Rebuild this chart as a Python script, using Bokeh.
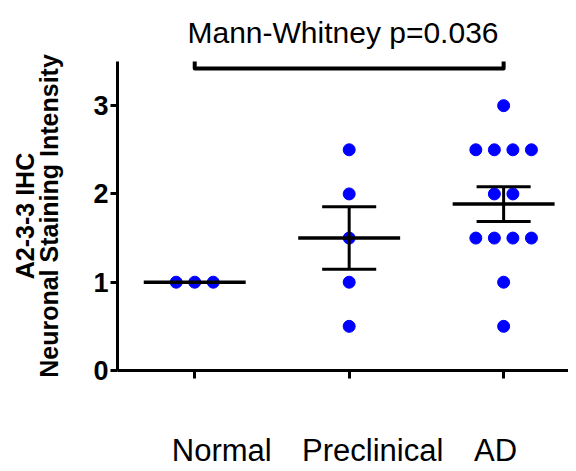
import numpy as np
from bokeh.plotting import figure
from bokeh.models import FixedTicker, LinearAxis, Range1d
from bokeh.embed import file_html
from bokeh.resources import INLINE

# ---- data ----
groups = ["Normal", "Preclinical", "AD"]
normal = [1.0, 1.0, 1.0]
preclinical = [2.5, 2.0, 1.5, 1.0, 0.5]
ad = [3.0, 2.5, 2.5, 2.5, 2.5, 2.0, 2.0, 1.5, 1.5, 1.5, 1.5, 1.0, 0.5]
y_ticks = [0, 1, 2, 3]
label_pos = [0.175, 1.152, 1.948]
title_text = "Mann-Whitney p=0.036"
ylabel_text = "A2-3-3 IHC\nNeuronal Staining Intensity"
bracket_x = [0, 0, 2, 2]
bracket_y = [3.51, 3.42, 3.42, 3.51]

series = [normal, preclinical, ad]
FONT = "Liberation Sans"

p = figure(frame_width=451, frame_height=309, x_range=Range1d(-0.5, 2.42), y_range=Range1d(0, 3.5),
           output_backend="svg", toolbar_location=None,
           min_border_left=117, min_border_right=0, min_border_top=61, min_border_bottom=0,
           x_axis_type=None, y_axis_type=None)
p.outline_line_color = None
p.xgrid.visible = False
p.ygrid.visible = False

# title
p.title.text = title_text
p.title.align = "center"
p.title.text_font = FONT
p.title.text_font_style = "normal"
p.title.text_font_size = "30px"
p.title.text_color = "black"
p.title.standoff = 25
p.title.offset = 3

# swarm positions
step = 0.12
xs, ys = [], []
for gi, vals in enumerate(series):
    uniq = sorted(set(vals), reverse=True)
    for v in uniq:
        n = vals.count(v)
        for k in range(n):
            xs.append(gi + (k - (n - 1) / 2) * step)
            ys.append(v)
p.scatter(xs, ys, size=12, color="#0000ff", line_color="#0000ff")

# mean and SEM
for gi, vals in enumerate(series):
    a = np.array(vals)
    m = a.mean()
    sem = a.std(ddof=1) / np.sqrt(len(a))
    p.segment(x0=[gi - 0.33], x1=[gi + 0.33], y0=[m], y1=[m], line_color="black", line_width=3.5)
    if sem > 0:
        p.segment(x0=[gi], x1=[gi], y0=[m - sem], y1=[m + sem], line_color="black", line_width=3)
        p.segment(x0=[gi - 0.175, gi - 0.175], x1=[gi + 0.175, gi + 0.175],
                  y0=[m - sem, m + sem], y1=[m - sem, m + sem], line_color="black", line_width=3)

# bracket
p.line(bracket_x, bracket_y, line_color="black", line_width=4, line_join="round", line_cap="round")

# y axis
yax = LinearAxis(ticker=FixedTicker(ticks=y_ticks))
yax.axis_label = ylabel_text
yax.axis_label_text_font = FONT
yax.axis_label_text_font_style = "bold"
yax.axis_label_text_font_size = "25px"
yax.axis_label_text_color = "black"
yax.axis_label_text_line_height = 0.88
yax.axis_label_standoff = 27
yax.major_label_text_font = FONT
yax.major_label_text_font_style = "bold"
yax.major_label_text_font_size = "27px"
yax.major_label_text_color = "black"
yax.major_label_standoff = 2
yax.axis_line_width = 3
yax.major_tick_line_width = 3
yax.major_tick_out = 7
yax.major_tick_in = 0
yax.minor_tick_line_color = None
p.add_layout(yax, "left")

# x axis (ticks)
xax = LinearAxis(ticker=FixedTicker(ticks=[0, 1, 2]))
xax.major_label_overrides = {0: "", 1: "", 2: ""}
xax.axis_line_width = 3
xax.major_tick_line_width = 3
xax.major_tick_out = 8
xax.major_tick_in = 0
xax.minor_tick_line_color = None
xax.major_label_text_font_size = "1px"
xax.major_label_standoff = 0
p.add_layout(xax, "below")

# x axis (category labels)
lax = LinearAxis(ticker=FixedTicker(ticks=label_pos))
lax.major_label_overrides = {pos: g for pos, g in zip(label_pos, groups)}
lax.axis_line_color = None
lax.major_tick_line_color = None
lax.minor_tick_line_color = None
lax.major_tick_out = 0
lax.major_tick_in = 0
lax.major_label_text_font = FONT
lax.major_label_text_font_size = "31px"
lax.major_label_text_color = "black"
lax.major_label_text_line_height = 0.75
lax.major_label_standoff = 54
p.add_layout(lax, "below")

open("out.html", "w").write(file_html(p, INLINE))
